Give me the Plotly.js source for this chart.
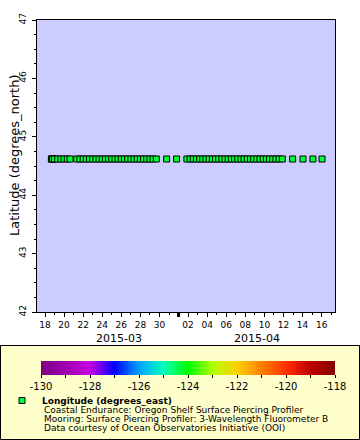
<!DOCTYPE html>
<html><head><meta charset="utf-8">
<script src="https://cdn.plot.ly/plotly-3.0.1.min.js"></script>
<style>html,body{margin:0;padding:0;background:#fff}#chart{width:360px;height:440px}</style>
</head><body><div id="chart"></div>
<script>
const times = [
 '2015-03-18 16:00','2015-03-18 17:00','2015-03-18 18:00','2015-03-18 19:00',
 '2015-03-19 00:00','2015-03-19 08:00','2015-03-19 16:00','2015-03-20 00:00','2015-03-20 08:00','2015-03-20 15:00',
 '2015-03-21 08:00','2015-03-21 16:00',
 '2015-03-22 00:00','2015-03-22 08:00','2015-03-22 16:00',
 '2015-03-23 00:00','2015-03-23 08:00','2015-03-23 16:00',
 '2015-03-24 00:00','2015-03-24 08:00','2015-03-24 16:00',
 '2015-03-25 00:00','2015-03-25 08:00','2015-03-25 16:00',
 '2015-03-26 00:00','2015-03-26 08:00','2015-03-26 16:00',
 '2015-03-27 00:00','2015-03-27 08:00','2015-03-27 16:00',
 '2015-03-28 00:00','2015-03-28 08:00','2015-03-28 16:00',
 '2015-03-29 00:00','2015-03-29 08:00','2015-03-29 16:00',
 '2015-03-30 18:00','2015-03-31 19:00',
 '2015-04-01 21:00',
 '2015-04-02 05:00','2015-04-02 13:00','2015-04-02 21:00',
 '2015-04-03 05:00','2015-04-03 13:00','2015-04-03 21:00',
 '2015-04-04 05:00','2015-04-04 13:00','2015-04-04 21:00',
 '2015-04-05 05:00','2015-04-05 13:00','2015-04-05 21:00',
 '2015-04-06 05:00','2015-04-06 13:00','2015-04-06 21:00',
 '2015-04-07 05:00','2015-04-07 13:00','2015-04-07 21:00',
 '2015-04-08 05:00','2015-04-08 13:00','2015-04-08 21:00',
 '2015-04-09 05:00','2015-04-09 13:00','2015-04-09 21:00',
 '2015-04-10 05:00','2015-04-10 13:00','2015-04-10 21:00',
 '2015-04-11 05:00','2015-04-11 13:00','2015-04-11 21:00',
 '2015-04-12 23:00','2015-04-14 01:00','2015-04-15 02:00','2015-04-16 01:00'
];
// Latitude of each observation (degrees_north)
const latitude = [
 44.62,44.62,44.62,44.62,44.62,44.62,44.62,44.62,44.62,44.62,
 44.62,44.62,44.62,44.62,44.62,44.62,44.62,44.62,44.62,44.62,
 44.62,44.62,44.62,44.62,44.62,44.62,44.62,44.62,44.62,44.62,
 44.62,44.62,44.62,44.62,44.62,44.62,44.62,44.62,44.62,44.62,
 44.62,44.62,44.62,44.62,44.62,44.62,44.62,44.62,44.62,44.62,
 44.62,44.62,44.62,44.62,44.62,44.62,44.62,44.62,44.62,44.62,
 44.62,44.62,44.62,44.62,44.62,44.62,44.62,44.62,44.62,44.62,
 44.62,44.62,44.62
];
// Longitude of each observation (degrees_east), shown as colour
const longitude = [
 -124.30,-124.30,-124.30,-124.30,-124.30,-124.30,-124.30,-124.30,-124.30,-124.30,
 -124.30,-124.30,-124.30,-124.30,-124.30,-124.30,-124.30,-124.30,-124.30,-124.30,
 -124.30,-124.30,-124.30,-124.30,-124.30,-124.30,-124.30,-124.30,-124.30,-124.30,
 -124.30,-124.30,-124.30,-124.30,-124.30,-124.30,-124.30,-124.30,-124.30,-124.30,
 -124.30,-124.30,-124.30,-124.30,-124.30,-124.30,-124.30,-124.30,-124.30,-124.30,
 -124.30,-124.30,-124.30,-124.30,-124.30,-124.30,-124.30,-124.30,-124.30,-124.30,
 -124.30,-124.30,-124.30,-124.30,-124.30,-124.30,-124.30,-124.30,-124.30,-124.30,
 -124.30,-124.30,-124.30
];
// X tick labels
const xTickVals = ['2015-03-18','2015-03-20','2015-03-22','2015-03-24','2015-03-26','2015-03-28','2015-03-30',
                   '2015-04-02','2015-04-04','2015-04-06','2015-04-08','2015-04-10','2015-04-12','2015-04-14','2015-04-16'];
const xTickText = ['18','20','22','24','26','28','30','02','04','06','08','10','12','14','16'];
const monthLabels = ['2015-03','2015-04'];
const monthPos = ['2015-03-25 18:00','2015-04-09 05:00'];
// Colour bar ticks
const cbTickVals = [-130,-129,-128,-127,-126,-125,-124,-123,-122,-121,-120,-119,-118];
const cbTickText = ['-130','','-128','','-126','','-124','','-122','','-120','','-118'];
const yTitle = 'Latitude (degrees_north)';
const infoLines = [
 'Coastal Endurance: Oregon Shelf Surface Piercing Profiler',
 'Mooring: Surface Piercing Profiler: 3-Wavelength Fluorometer B',
 'Data courtesy of Ocean Observatories Initiative (OOI)'
];

const rainbow = [
 [0,'#800080'],[1/12,'#a000b0'],[2/12,'#c800e0'],[3/12,'#0000ff'],[4/12,'#00a0ff'],
 [5/12,'#00ffc0'],[6/12,'#00ff00'],[7/12,'#b0ff00'],[8/12,'#ffd000'],[9/12,'#ff8000'],
 [10/12,'#ff3000'],[11/12,'#c00000'],[1,'#800000']
];

const FONT = 'DejaVu Sans, sans-serif';
const L = 37, T = 20, W = 298, H = 292;
const py = Y => (T + H - Y) / H;   // pixel -> paper y
const px = X => (X - L) / W;       // pixel -> paper x

const trace = {
  type: 'scatter', mode: 'markers', x: times, y: latitude,
  name: '<b>Longitude (degrees_east)</b>', showlegend: true,
  marker: {
    symbol: 'square', size: 6, color: longitude, cmin: -130, cmax: -118,
    colorscale: rainbow, line: {color: '#000', width: 1},
    colorbar: {
      orientation: 'h', x: px(188), xanchor: 'center', y: py(361), yanchor: 'top',
      len: 294, lenmode: 'pixels', thickness: 14, thicknessmode: 'pixels',
      xpad: 0, ypad: 0, outlinewidth: 0, bgcolor: 'rgba(0,0,0,0)',
      tickmode: 'array', tickvals: cbTickVals, ticktext: cbTickText,
      ticks: 'outside', ticklen: 3, tickcolor: '#000',
      tickfont: {family: FONT, size: 10, color: '#000'}
    }
  }
};

const annotations = [{
  text: yTitle, x: px(14), xref: 'paper', y: py(156), yref: 'paper', textangle: -90,
  showarrow: false, xanchor: 'center', yanchor: 'middle',
  font: {family: FONT, size: 13, color: '#000'}
}];
monthLabels.forEach((m, i) => annotations.push({
  text: m, x: monthPos[i], xref: 'x', y: py(338), yref: 'paper',
  showarrow: false, xanchor: 'center', yanchor: 'middle',
  font: {family: FONT, size: 11, color: '#000'}
}));
infoLines.forEach((t, i) => annotations.push({
  text: t, x: px(42), xref: 'paper', y: py(409.5 + 9 * i), yref: 'paper',
  showarrow: false, xanchor: 'left', yanchor: 'middle',
  font: {family: FONT, size: 9, color: '#000'}
}));

const layout = {
  width: 360, height: 440,
  margin: {l: L, r: 360 - L - W, t: T, b: 440 - T - H, pad: 0, autoexpand: false},
  paper_bgcolor: '#ffffff', plot_bgcolor: '#ccccff',
  font: {family: FONT, size: 9, color: '#000'},
  xaxis: {
    type: 'date', range: ['2015-03-17 03:52', '2015-04-17 09:36'], automargin: false,
    tickmode: 'array', tickvals: xTickVals, ticktext: xTickText,
    ticks: 'outside', ticklen: 4, tickcolor: '#000', tickwidth: 1,
    tickfont: {family: FONT, size: 9, color: '#000'},
    showgrid: false, zeroline: false, showline: true, linecolor: '#000', linewidth: 1, mirror: true,
    minor: {dtick: 86400000, tick0: '2015-03-18', ticks: 'outside', ticklen: 2, tickcolor: '#000', showgrid: false}
  },
  yaxis: {
    range: [42, 47], dtick: 1, tick0: 42, tickangle: -90, automargin: false,
    ticks: 'outside', ticklen: 4, tickcolor: '#000', ticklabelstandoff: 2,
    tickfont: {family: FONT, size: 9, color: '#000'},
    showgrid: false, zeroline: false, showline: true, linecolor: '#000', linewidth: 1, mirror: true,
    minor: {dtick: 0.25, ticks: 'outside', ticklen: 2, tickcolor: '#000', showgrid: false}
  },
  showlegend: true,
  legend: {
    x: px(2), xanchor: 'left', y: py(386), yanchor: 'top',
    bgcolor: 'rgba(0,0,0,0)', borderwidth: 0,
    font: {family: FONT, size: 9, color: '#000'}, itemclick: false
  },
  shapes: [
    {type: 'rect', xref: 'paper', yref: 'paper', x0: px(0.5), x1: px(359.5), y0: py(345.5), y1: py(439.5),
     fillcolor: '#ffffcc', line: {color: '#000', width: 1}, layer: 'below'},
    {type: 'line', xref: 'x', yref: 'paper', x0: '2015-04-01', x1: '2015-04-01', y0: 0, y1: -5 / H,
     line: {color: '#000', width: 3}}
  ],
  annotations: annotations
};

Plotly.newPlot('chart', [trace], layout, {displayModeBar: false, staticPlot: true});
</script>
</body></html>
